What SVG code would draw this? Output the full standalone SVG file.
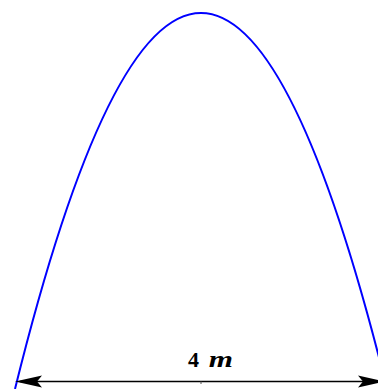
<svg xmlns="http://www.w3.org/2000/svg" width="378" height="389" viewBox="0 0 378 389">
<style>
.curve{fill:none;stroke:#0000ff;stroke-width:2}
.dim{stroke:#000;stroke-width:1.6;fill:none}
.head{fill:#000}
.lbl{font-family:"Liberation Serif","DejaVu Serif",serif;font-weight:bold;font-size:22px;fill:#000}
</style>
<rect width="378" height="389" fill="#fff"/>
<g id="parabola">
<path class="curve" d="M15,389 Q201,-363 387,389"/>
</g>
<g id="connectors">
<line class="dim" x1="20" y1="381.5" x2="380" y2="381.5"/>
<line x1="201" y1="381.5" x2="201" y2="384" stroke="#555" stroke-width="1"/>
<polygon class="head" points="15,381.5 42,375.5 37,381.5 42,387.5"/>
<polygon class="head" points="385,381.5 358,375.5 363,381.5 358,387.5"/>
</g>
<g id="label">
<text class="lbl" x="188" y="367">4<tspan x="201" font-style="italic" font-size="23" textLength="32" lengthAdjust="spacingAndGlyphs"> m</tspan></text>
</g>
</svg>
